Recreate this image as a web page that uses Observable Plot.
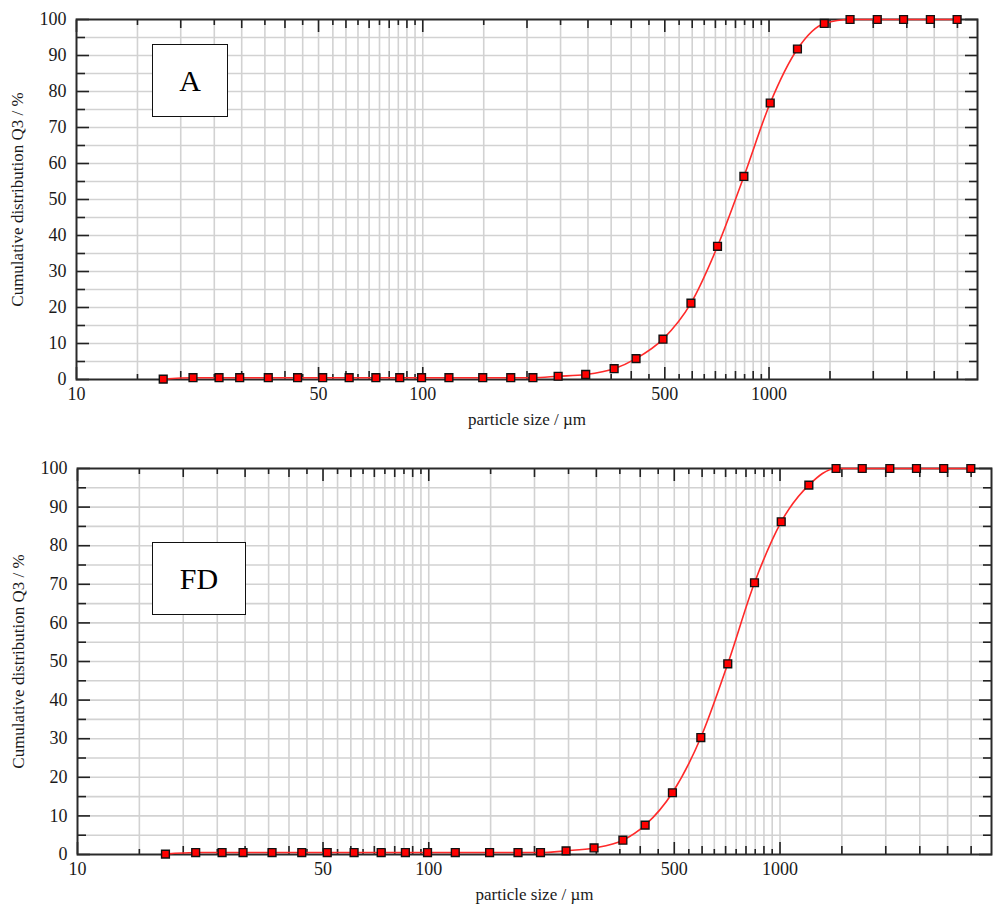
<!DOCTYPE html>
<html>
<head>
<meta charset="utf-8">
<script src="https://cdn.jsdelivr.net/npm/d3@7"></script>
<script src="https://cdn.jsdelivr.net/npm/@observablehq/plot@0.6"></script>
<style>
  html, body { margin: 0; padding: 0; background: #fff; }
  #wrap { position: relative; width: 993px; height: 911px; overflow: hidden; }
  #wrap svg { display: block; }
  .box { position: absolute; border: 1.5px solid #111; background: #fff; box-sizing: border-box;
         font-family: "Liberation Serif", "Times New Roman", serif; font-size: 30px; color: #000;
         display: flex; align-items: center; justify-content: center; }
</style>
</head>
<body>
<div id="wrap">
  <div id="chartA"></div>
  <div id="chartFD"></div>
  <div class="box" style="left:152px;top:44px;width:76px;height:73px;">A</div>
  <div class="box" style="left:152px;top:542px;width:94px;height:73px;">FD</div>
</div>
<script>
// particle size classes (µm)
const sizes = [17.8, 21.7, 25.8, 29.6, 35.8, 43.5, 51.4, 61.3, 73.2, 85.8, 99.2, 119, 149, 179.5, 208,
               246, 295.5, 357, 413, 494, 595, 710, 846, 1008, 1208, 1444, 1714, 2054, 2446, 2924, 3493];
// cumulative distribution Q3 (%) – sample A
const q3A = [0.1, 0.5, 0.5, 0.5, 0.5, 0.5, 0.5, 0.5, 0.5, 0.5, 0.5, 0.5, 0.5, 0.5, 0.5,
             0.9, 1.4, 3.0, 5.8, 11.2, 21.2, 37.0, 56.4, 76.8, 91.8, 98.9, 100, 100, 100, 100, 100];
// cumulative distribution Q3 (%) – sample FD
const q3FD = [0.1, 0.5, 0.5, 0.5, 0.5, 0.5, 0.5, 0.5, 0.5, 0.5, 0.5, 0.5, 0.5, 0.5, 0.5,
              0.95, 1.7, 3.7, 7.6, 16.0, 30.3, 49.4, 70.4, 86.2, 95.7, 100, 100, 100, 100, 100, 100];

const xTickLabels = [10, 50, 100, 500, 1000];
const yTickLabels = [0, 10, 20, 30, 40, 50, 60, 70, 80, 90, 100];
const yMinor = [5, 15, 25, 35, 45, 55, 65, 75, 85, 95];
const xMedium = [20, 30, 40, 60, 70, 80, 90, 200, 300, 400, 600, 700, 800, 900, 1500, 2000, 2500, 3000, 3500];
const xShort = [15, 25, 35, 45, 55, 65, 75, 85, 95, 150, 250, 350, 450, 550, 650, 750, 850, 950];
const xGrid = [...xShort, ...xMedium, 50, 100, 500, 1000].sort((a, b) => a - b);
const yGrid = [...yMinor, 10, 20, 30, 40, 50, 60, 70, 80, 90];

const xLabel = "particle size / µm";
const yLabel = "Cumulative distribution Q3 / %";

function chart(values, {height, marginTop, marginBottom, marginLeft, marginRight}) {
  const data = sizes.map((s, i) => ({size: s, q3: values[i]}));
  const tickStyle = {stroke: "#222", strokeWidth: 1.6, tickFormat: () => "", label: null};
  return Plot.plot({
    width: 993, height, marginTop, marginBottom, marginLeft, marginRight,
    style: {fontFamily: "'Liberation Serif', 'Times New Roman', serif", fontSize: "18px", color: "#1a1a1a", background: "#fff"},
    x: {type: "log", domain: [10, 4000]},
    y: {domain: [0, 100]},
    marks: [
      Plot.ruleX(xGrid, {stroke: "#d2d2d2", strokeWidth: 1.6}),
      Plot.ruleY(yGrid, {stroke: "#d2d2d2", strokeWidth: 1.6}),
      // inward ticks, bottom
      Plot.axisX(xTickLabels, {anchor: "bottom", tickSize: 12, dy: -12, ...tickStyle}),
      Plot.axisX(xMedium, {anchor: "bottom", tickSize: 8, dy: -8, ...tickStyle}),
      Plot.axisX(xShort, {anchor: "bottom", tickSize: 5, dy: -5, ...tickStyle}),
      // inward ticks, top
      Plot.axisX(xTickLabels, {anchor: "top", tickSize: 12, dy: 12, ...tickStyle}),
      Plot.axisX(xMedium, {anchor: "top", tickSize: 8, dy: 8, ...tickStyle}),
      Plot.axisX(xShort, {anchor: "top", tickSize: 5, dy: 5, ...tickStyle}),
      // inward ticks, left / right
      Plot.axisY(yTickLabels, {anchor: "left", tickSize: 13, dx: 13, ...tickStyle}),
      Plot.axisY(yMinor, {anchor: "left", tickSize: 9, dx: 9, ...tickStyle}),
      Plot.axisY(yTickLabels, {anchor: "right", tickSize: 13, dx: -13, ...tickStyle}),
      Plot.axisY(yMinor, {anchor: "right", tickSize: 9, dx: -9, ...tickStyle}),
      // labels
      Plot.axisX(xTickLabels, {anchor: "bottom", tickSize: 0, tickPadding: 8, tickFormat: d => String(d),
        label: xLabel, labelAnchor: "center", labelArrow: "none", labelOffset: 45}),
      Plot.axisY(yTickLabels, {anchor: "left", tickSize: 0, tickPadding: 10, tickFormat: d => String(d),
        label: yLabel, labelAnchor: "center", labelArrow: "none", labelOffset: 66}),
      Plot.frame({stroke: "#2a2a2a", strokeWidth: 2}),
      Plot.line(data, {x: "size", y: "q3", stroke: "#ff2a2a", strokeWidth: 1.6, curve: "monotone-x"}),
      Plot.dot(data, {x: "size", y: "q3", symbol: "square", r: 4.4, fill: "#ff0000", stroke: "#111", strokeWidth: 1.4})
    ]
  });
}

document.getElementById("chartA").append(chart(q3A, {height: 435, marginTop: 19, marginBottom: 56, marginLeft: 76, marginRight: 16}));
document.getElementById("chartFD").append(chart(q3FD, {height: 476, marginTop: 33, marginBottom: 57, marginLeft: 77, marginRight: 2}));

// axis title font size
document.querySelectorAll("#wrap svg g[aria-label='x-axis label'] text, #wrap svg g[aria-label='y-axis label'] text")
  .forEach(t => t.setAttribute("font-size", "17"));
</script>
</body>
</html>
